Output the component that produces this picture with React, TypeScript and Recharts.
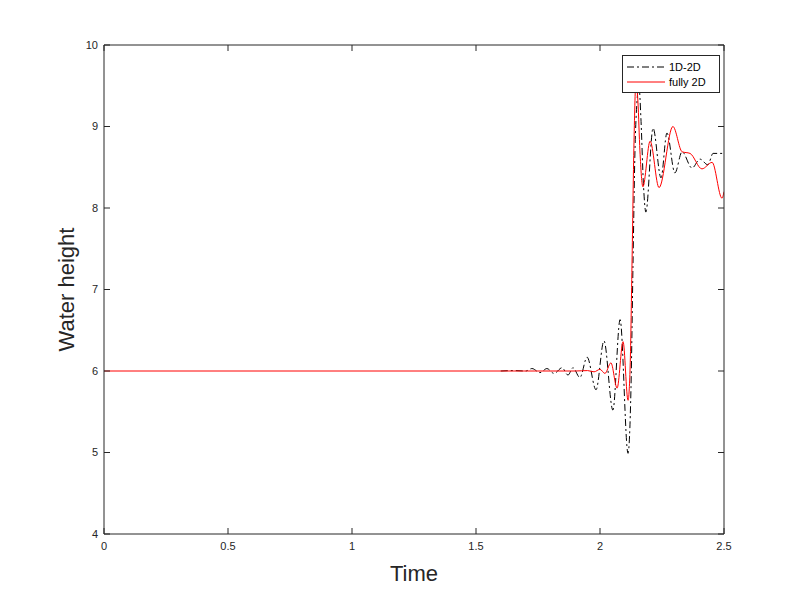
import { Legend, Line, LineChart, XAxis, YAxis } from "recharts";

const xTicks = [0, 0.5, 1, 1.5, 2, 2.5];
const yTicks = [4, 5, 6, 7, 8, 9, 10];

// 1D-2D coupled model (black dash-dot); hidden under the red line before 1.6
const coupledTime = [
  1.6, 1.65, 1.7, 1.726, 1.758, 1.786, 1.815, 1.847, 1.871, 1.891, 1.919,
  1.948, 1.984, 2.016, 2.052, 2.081, 2.113, 2.125, 2.133, 2.141, 2.149, 2.157,
  2.165, 2.175, 2.185, 2.214, 2.246, 2.27, 2.302, 2.331, 2.371, 2.403, 2.435,
  2.456, 2.5,
];
const coupledHeight = [
  6.0, 6.005, 6.0, 6.03, 5.98, 6.03, 5.97, 6.04, 5.95, 6.04, 5.92, 6.17, 5.77,
  6.37, 5.52, 6.63, 4.99, 5.8, 7.3, 8.7, 9.3, 9.5, 9.1, 8.3, 7.95, 8.98, 8.37,
  8.92, 8.43, 8.69, 8.49, 8.6, 8.53, 8.67, 8.67,
];

// fully 2D model (red)
const fullTime = [
  0, 0.5, 1, 1.5, 1.9, 1.95, 1.976, 2.0, 2.02, 2.044, 2.069, 2.093, 2.113,
  2.121, 2.129, 2.137, 2.145, 2.153, 2.161, 2.173, 2.202, 2.238, 2.294, 2.331,
  2.363, 2.411, 2.452, 2.492, 2.5,
];
const fullHeight = [
  6.0, 6.0, 6.0, 6.0, 6.0, 6.005, 5.99, 6.02, 5.97, 6.1, 5.79, 6.36, 5.64, 6.0,
  7.3, 8.8, 9.55, 9.3, 8.7, 8.26, 8.82, 8.25, 9.0, 8.69, 8.67, 8.48, 8.56,
  8.12, 8.2,
];

const coupledData = coupledTime.map((t, i) => ({ t, h: coupledHeight[i] }));
const fullData = fullTime.map((t, i) => ({ t, h: fullHeight[i] }));

const AXIS = "#262626";
const FONT = "'Liberation Sans', Arial, sans-serif";
const TICK_LEN = 6;

const BottomTick = (props: any) => {
  const { x, y, payload } = props;
  const base = y - 8;
  return (
    <g>
      <line x1={x} x2={x} y1={base} y2={base - TICK_LEN} stroke={AXIS} />
      <text x={x} y={y} dy="0.71em" textAnchor="middle" fill={AXIS} fontSize={11} fontFamily={FONT}>
        {payload.value}
      </text>
    </g>
  );
};

const TopTick = (props: any) => {
  const { x, y } = props;
  return <line x1={x} x2={x} y1={y} y2={y + TICK_LEN} stroke={AXIS} />;
};

const LeftTick = (props: any) => {
  const { x, y, payload } = props;
  const base = x + 6;
  return (
    <g>
      <line x1={base} x2={base + TICK_LEN} y1={y} y2={y} stroke={AXIS} />
      <text x={x} y={y} dy="0.35em" textAnchor="end" fill={AXIS} fontSize={11} fontFamily={FONT}>
        {payload.value}
      </text>
    </g>
  );
};

const RightTick = (props: any) => {
  const { x, y } = props;
  return <line x1={x - TICK_LEN} x2={x} y1={y} y2={y} stroke={AXIS} />;
};

const legendItems = [
  { name: "1D-2D", color: "#000000", dash: "7 3 2 3" },
  { name: "fully 2D", color: "#ff0000", dash: undefined },
];

const LegendBox = () => (
  <div
    style={{
      background: "#fff",
      border: `1px solid ${AXIS}`,
      padding: "3px 4px",
      fontFamily: FONT,
      fontSize: 11,
      color: "#000",
      boxSizing: "border-box",
      width: 98,
    }}
  >
    {legendItems.map((item) => (
      <div key={item.name} style={{ display: "flex", alignItems: "center", height: 15 }}>
        <svg width={38} height={10} style={{ marginRight: 4 }}>
          <line x1={0} x2={38} y1={5} y2={5} stroke={item.color} strokeDasharray={item.dash} />
        </svg>
        <span>{item.name}</span>
      </div>
    ))}
  </div>
);

export default function App() {
  return (
    <div style={{ position: "absolute", left: 0, top: 0, width: 800, height: 600, background: "#fff" }}>
      <LineChart width={800} height={600} margin={{ top: 44, right: 75, bottom: 36, left: 64 }}>
        <XAxis
          dataKey="t"
          type="number"
          domain={[0, 2.5]}
          ticks={xTicks}
          allowDataOverflow
          height={30}
          tickSize={0}
          tickMargin={8}
          tick={BottomTick}
          axisLine={{ stroke: AXIS }}
          label={{ value: "Time", position: "bottom", offset: 1, fill: AXIS, fontSize: 22, fontFamily: FONT }}
        />
        <XAxis
          xAxisId="top"
          dataKey="t"
          orientation="top"
          type="number"
          domain={[0, 2.5]}
          ticks={xTicks}
          height={1}
          tickSize={0}
          tickMargin={0}
          tick={TopTick}
          axisLine={{ stroke: AXIS }}
        />
        <YAxis
          type="number"
          domain={[4, 10]}
          ticks={yTicks}
          width={40}
          tickSize={0}
          tickMargin={6}
          tick={LeftTick}
          axisLine={{ stroke: AXIS }}
          label={{
            value: "Water height",
            angle: -90,
            position: "insideLeft",
            offset: 2,
            fill: AXIS,
            fontSize: 22,
            fontFamily: FONT,
            style: { textAnchor: "middle" },
          }}
        />
        <YAxis
          yAxisId="right"
          orientation="right"
          type="number"
          domain={[4, 10]}
          ticks={yTicks}
          width={1}
          tickSize={0}
          tickMargin={0}
          tick={RightTick}
          axisLine={{ stroke: AXIS }}
        />
        {/* invisible series so the top and right frame axes get drawn */}
        <Line
          xAxisId="top"
          yAxisId="right"
          data={fullData}
          dataKey="h"
          stroke="none"
          dot={false}
          activeDot={false}
          legendType="none"
          isAnimationActive={false}
        />
        <Line
          data={coupledData}
          dataKey="h"
          name="1D-2D"
          type="monotone"
          stroke="#000000"
          strokeWidth={1}
          strokeDasharray="7 3 2 3"
          dot={false}
          isAnimationActive={false}
        />
        <Line
          data={fullData}
          dataKey="h"
          name="fully 2D"
          type="monotone"
          stroke="#ff0000"
          strokeWidth={1}
          dot={false}
          isAnimationActive={false}
        />
        <Legend
          layout="horizontal"
          verticalAlign="middle"
          align="center"
          content={LegendBox}
          wrapperStyle={{ top: 55, left: 622, width: 98 }}
        />
      </LineChart>
    </div>
  );
}
